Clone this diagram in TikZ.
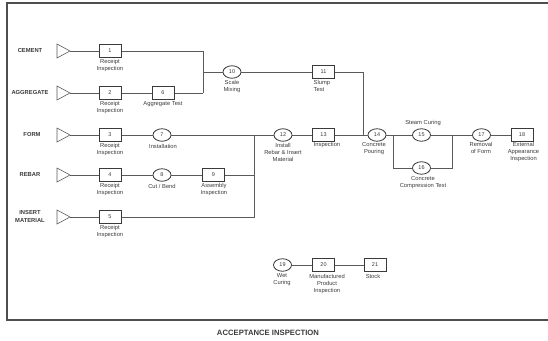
\documentclass[tikz,border=0pt]{standalone}
\usepackage{fontspec}
\setmainfont{Liberation Sans}
\usetikzlibrary{shapes.geometric}
\definecolor{ink}{HTML}{3A3A3A}
\definecolor{ln}{HTML}{5A5A5A}
\tikzset{
  conn/.style={draw=ln, line width=0.6pt},
  boxn/.style={draw=ink, line width=1pt, minimum width=22pt, minimum height=13.5pt, inner sep=0pt, font=\fontsize{5.5}{6}\selectfont, text=ink},
  circn/.style={ellipse, draw=ink, line width=0.8pt, minimum width=18pt, minimum height=12.5pt, inner sep=0pt, font=\fontsize{5.5}{6}\selectfont, text=ink, fill=white},
  lbl/.style={inner sep=0pt, align=center, font=\fontsize{5.8}{7}\selectfont, text=ink},
  src/.style={inner sep=0pt, align=center, font=\bfseries\fontsize{5.8}{7.2}\selectfont, text=ink},
  tri/.style={draw=ln, line width=0.6pt},
  frm/.style={draw=ink!90, line width=1.2pt}
}
\begin{document}
\begin{tikzpicture}[x=1pt,y=-1pt]
\useasboundingbox (0,0) rectangle (548,340);
% frame
\draw[frm] (549,3) -- (7,3) -- (7,320) -- (549,320);
% source labels
\node[src] (sCement) at (30,51) {CEMENT};
\node[src] (sAgg) at (30,93) {AGGREGATE};
\node[src] (sForm) at (32,135) {FORM};
\node[src] (sRebar) at (30,175) {REBAR};
\node[src] (sIns) at (30,216.5) {INSERT\\MATERIAL};
% triangles
\foreach \y/\n in {51/t1,93/t2,135/t3,175/t4,217/t5}{
  \draw[tri] (57,\y-7) -- (70,\y) -- (57,\y+7) -- cycle;
  \coordinate (\n) at (70,\y);
}
% boxes
\node[boxn] (b1) at (110,51) {1};
\node[boxn] (b2) at (110,93) {2};
\node[boxn] (b3) at (110,135) {3};
\node[boxn] (b4) at (110,175) {4};
\node[boxn] (b5) at (110,217) {5};
\node[boxn] (b6) at (163,93) {6};
\node[circn] (n7) at (162,135) {7};
\node[circn] (n8) at (162,175) {8};
\node[boxn] (b9) at (213.5,175) {9};
\node[circn] (n10) at (232,72) {10};
\node[boxn] (b11) at (323.5,72) {11};
\node[circn] (n12) at (283,135) {12};
\node[boxn] (b13) at (323.5,135) {13};
\node[circn] (n14) at (377,135) {14};
\node[circn] (n15) at (421.5,135) {15};
\node[circn] (n16) at (421.5,168) {16};
\node[circn] (n17) at (481.5,135) {17};
\node[boxn] (b18) at (522,135) {18};
\node[circn] (n19) at (282.5,265) {19};
\node[boxn] (b20) at (323.5,265) {20};
\node[boxn] (b21) at (375,265) {21};
% junction coordinates
\coordinate (ja) at (203,93);
\coordinate (jm) at (203,72);
\coordinate (jb) at (363,135);
\coordinate (jc) at (254,135);
\coordinate (jd) at (254,175);
\coordinate (je) at (393,135);
\coordinate (jf) at (452,135);
% connectors
\draw[conn] (t1) -- (b1);
\draw[conn] (t2) -- (b2);
\draw[conn] (t3) -- (b3);
\draw[conn] (t4) -- (b4);
\draw[conn] (t5) -- (b5);
\draw[conn] (b1) -| (ja);
\draw[conn] (b2) -- (b6);
\draw[conn] (b6) -- (ja);
\draw[conn] (jm) -- (n10);
\draw[conn] (n10) -- (b11);
\draw[conn] (b11) -| (jb);
\draw[conn] (b3) -- (n7);
\draw[conn] (n7) -- (n12);
\draw[conn] (b5) -| (jc);
\draw[conn] (b4) -- (n8);
\draw[conn] (n8) -- (b9);
\draw[conn] (b9) -- (jd);
\draw[conn] (n12) -- (b13);
\draw[conn] (b13) -- (n14);
\draw[conn] (n14) -- (n15);
\draw[conn] (n15) -- (n17);
\draw[conn] (je) |- (n16);
\draw[conn] (n16) -| (jf);
\draw[conn] (n17) -- (b18);
\draw[conn] (n19) -- (b20);
\draw[conn] (b20) -- (b21);
% labels
\node[lbl] (l1) at (110,65.5) {Receipt\\Inspection};
\node[lbl] (l2) at (110,107.5) {Receipt\\Inspection};
\node[lbl] (l3) at (110,149.5) {Receipt\\Inspection};
\node[lbl] (l4) at (110,189.5) {Receipt\\Inspection};
\node[lbl] (l5) at (110,231.5) {Receipt\\Inspection};
\node[lbl] (l6) at (163,104) {Aggregate Test};
\node[lbl] (l7) at (163,146) {Installation};
\node[lbl] (l8) at (162,186) {Cut / Bend};
\node[lbl] (l9) at (214,189.5) {Assembly\\Inspection};
\node[lbl] (l10) at (232,86) {Scale\\Mixing};
\node[lbl, align=left, anchor=west] (l11) at (313.5,86) {Slump\\Test};
\node[lbl] (l12) at (283,152) {Install\\Rebar \& Insert\\Material};
\node[lbl] (l13) at (327,145) {Inspection};
\node[lbl] (l14) at (374,148.5) {Concrete\\Pouring};
\node[lbl] (l15) at (423,123) {Steam Curing};
\node[lbl] (l16) at (423,182.5) {Concrete\\Compression Test};
\node[lbl] (l17) at (481,148) {Removal\\of Form};
\node[lbl] (l18) at (523.5,152) {External\\Appearance\\Inspection};
\node[lbl] (l19) at (282,279.5) {Wet\\Curing};
\node[lbl] (l20) at (327,284) {Manufactured\\Product\\Inspection};
\node[lbl] (l21) at (373,276) {Stock};
\node[src, font=\bfseries\fontsize{7.7}{9}\selectfont] (title) at (268,333) {ACCEPTANCE INSPECTION};
\end{tikzpicture}
\end{document}
